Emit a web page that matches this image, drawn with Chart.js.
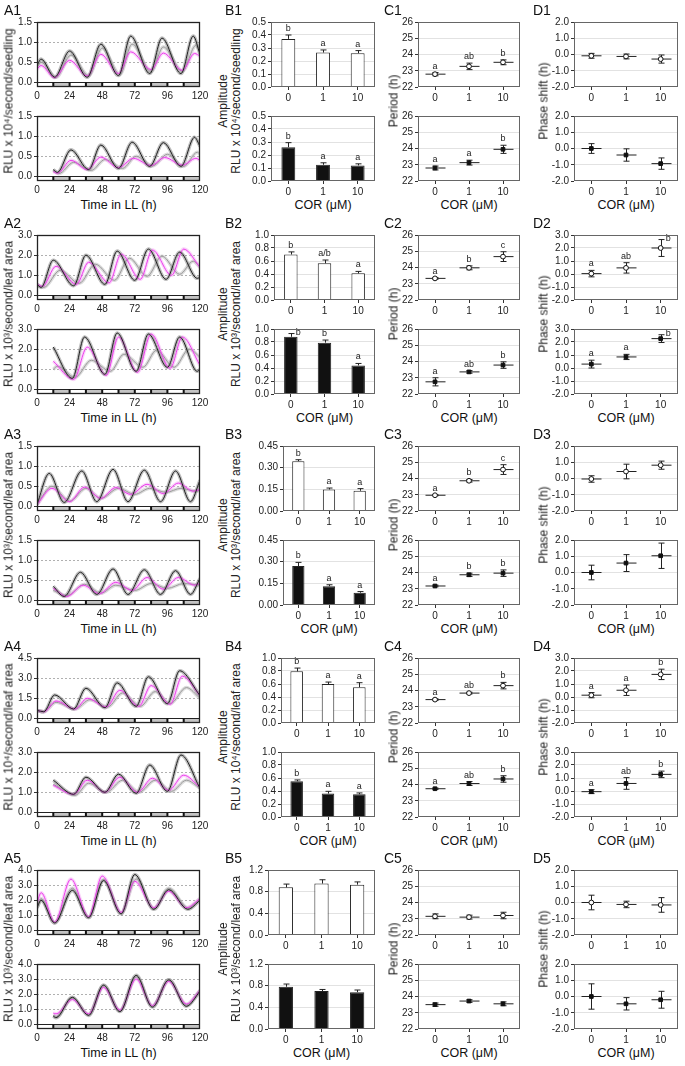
<!DOCTYPE html>
<html>
<head>
<meta charset="utf-8">
<script src="https://cdn.jsdelivr.net/npm/chart.js@4.4.0/dist/chart.umd.min.js"></script>
<style>
  body { margin: 0; background: #fff; font-family: "Liberation Sans", Arial, sans-serif; }
  #fig { position: relative; width: 685px; height: 1066px; overflow: hidden; }
  canvas { position: absolute; }
  .lbl { position: absolute; font-size: 14px; color: #111; line-height: 14px; }
  .ttl { position: absolute; font-size: 12.5px; color: #111; white-space: nowrap; transform: translate(-50%, -50%); }
  .rot { position: absolute; font-size: 12px; color: #222; white-space: nowrap; text-align: center;
         line-height: 13px; transform: translate(-50%, -50%) rotate(-90deg); }
</style>
</head>
<body>
<div id="fig"></div>
<script>
// ---- shared categories / ticks ----
const doses = ["0", "1", "10"];
const timeTicks = [0, 24, 48, 72, 96, 120];
const ldDark = [[12, 24], [36, 48], [60, 72], [84, 96], [108, 120]];

const rluTicks15 = [0, 0.5, 1.0, 1.5];
const rluTicks3 = [0, 1, 2, 3];
const rluTicks45 = [0, 1.5, 3.0, 4.5];
const rluTicks4 = [0, 1, 2, 3, 4];
const ampTicks05 = [0, 0.1, 0.2, 0.3, 0.4, 0.5];
const ampTicks1 = [0, 0.2, 0.4, 0.6, 0.8, 1.0];
const ampTicks045 = [0, 0.15, 0.30, 0.45];
const ampTicks12 = [0, 0.4, 0.8, 1.2];
const periodTicks = [22, 23, 24, 25, 26];
const phaseTicks2 = [-2, -1, 0, 1, 2];
const phaseTicks3 = [-2, -1, 0, 1, 2, 3];

// ---- A: luminescence traces [time h, RLU] ; black = 0, magenta = 1, grey = 10 uM ----
const a1TopBlack = [[0,0.42],[3,0.58],[13,0.13],[24,0.78],[37,0.13],[47,0.95],[60,0.17],[69,1.15],[83,0.22],[92,1.1],[106,0.22],[115,1.15],[120,0.7]];
const a1TopMagenta = [[0,0.33],[3,0.42],[13,0.12],[24,0.55],[37,0.16],[47,0.7],[60,0.22],[69,0.76],[84,0.32],[93,0.73],[107,0.3],[116,0.72],[120,0.65]];
const a1TopGrey = [[0,0.38],[3,0.5],[14,0.13],[25,0.68],[38,0.17],[48,0.85],[61,0.2],[70,0.95],[84,0.27],[93,0.88],[107,0.28],[117,0.92],[120,0.8]];
const a1BotBlack = [[12,0.17],[15,0.1],[25,0.66],[38,0.17],[47,0.78],[60,0.2],[70,0.85],[83,0.25],[93,0.84],[106,0.25],[116,0.97],[120,0.75]];
const a1BotMagenta = [[12,0.12],[15,0.08],[25,0.4],[37,0.17],[47,0.48],[60,0.22],[71,0.45],[84,0.27],[94,0.47],[107,0.28],[117,0.45],[120,0.4]];
const a1BotGrey = [[12,0.15],[16,0.07],[27,0.35],[40,0.15],[50,0.42],[63,0.2],[73,0.5],[85,0.26],[96,0.55],[108,0.25],[118,0.6],[120,0.55]];

const a2TopBlack = [[0,0.55],[3,0.4],[12,1.75],[27,0.48],[36,2.0],[50,0.55],[59,2.2],[72,0.75],[82,2.3],[95,0.8],[105,2.15],[118,0.85],[120,0.9]];
const a2TopMagenta = [[0,0.55],[4,0.45],[14,1.45],[29,0.55],[38,1.65],[53,0.62],[62,2.05],[76,0.8],[85,2.25],[99,1.0],[108,2.3],[120,1.4]];
const a2TopGrey = [[0,0.5],[5,0.4],[17,1.25],[31,0.6],[43,1.55],[57,0.75],[68,1.85],[81,0.95],[92,1.95],[105,1.05],[115,1.7],[120,1.4]];
const a2BotBlack = [[12,2.1],[26,0.55],[35,2.6],[50,0.75],[59,2.8],[73,0.9],[82,2.75],[96,1.1],[105,2.6],[118,0.9],[120,1.0]];
const a2BotMagenta = [[12,1.4],[27,0.5],[37,2.1],[51,0.7],[60,2.6],[74,0.85],[84,2.75],[98,1.05],[107,2.6],[120,1.2]];
const a2BotGrey = [[12,1.0],[15,1.15],[28,0.6],[40,1.45],[54,0.9],[64,1.75],[78,1.1],[88,1.95],[101,1.1],[112,2.0],[120,1.6]];

const a3TopBlack = [[0,0.05],[9,0.82],[20,0.1],[33,0.88],[44,0.12],[56,0.92],[67,0.12],[79,0.9],[91,0.12],[102,0.88],[113,0.12],[120,0.65]];
const a3TopMagenta = [[0,0.05],[11,0.45],[24,0.12],[35,0.48],[47,0.2],[58,0.47],[69,0.3],[81,0.55],[93,0.32],[104,0.58],[115,0.38],[120,0.42]];
const a3TopGrey = [[0,0.05],[11,0.5],[24,0.13],[36,0.45],[47,0.2],[60,0.45],[72,0.3],[83,0.45],[95,0.35],[106,0.45],[117,0.38],[120,0.4]];
const a3BotBlack = [[12,0.35],[20,0.1],[32,0.7],[44,0.15],[56,0.78],[67,0.15],[79,0.76],[91,0.15],[102,0.74],[113,0.15],[120,0.55]];
const a3BotMagenta = [[12,0.3],[22,0.1],[34,0.38],[46,0.17],[58,0.45],[70,0.25],[81,0.57],[93,0.28],[104,0.57],[116,0.38],[120,0.42]];
const a3BotGrey = [[12,0.25],[22,0.12],[35,0.4],[47,0.18],[58,0.38],[72,0.25],[84,0.42],[96,0.3],[108,0.42],[120,0.38]];

const a4TopBlack = [[0,0.6],[5,0.5],[13,1.75],[27,0.7],[36,2.25],[50,0.8],[59,2.65],[73,0.9],[82,3.1],[96,1.1],[105,3.55],[120,1.7]];
const a4TopMagenta = [[0,0.6],[5,0.5],[14,1.3],[28,0.7],[37,1.5],[51,0.85],[61,2.1],[75,0.9],[84,2.45],[98,1.05],[107,3.15],[120,1.7]];
const a4TopGrey = [[0,0.6],[5,0.5],[14,1.2],[28,0.7],[39,1.4],[52,0.85],[63,1.9],[76,0.9],[87,2.0],[98,1.1],[110,2.3],[120,1.5]];
const a4BotBlack = [[12,1.6],[27,0.9],[36,1.75],[50,1.0],[60,1.9],[73,0.95],[83,2.35],[96,1.05],[106,2.85],[120,1.2]];
const a4BotMagenta = [[12,1.35],[27,0.9],[37,1.6],[50,1.0],[61,1.75],[74,1.0],[85,1.7],[97,1.1],[108,1.85],[120,1.25]];
const a4BotGrey = [[12,1.4],[28,0.85],[38,1.45],[51,1.0],[63,1.6],[75,1.0],[87,1.6],[99,1.05],[110,1.6],[120,1.2]];

const a5TopBlack = [[0,1.5],[3,2.0],[13,0.5],[26,2.65],[38,0.85],[49,3.3],[62,1.1],[72,3.7],[86,1.4],[97,2.7],[111,1.4],[120,2.0]];
const a5TopMagenta = [[0,1.8],[3,2.5],[13,0.55],[25,3.4],[38,0.9],[48,3.6],[62,1.2],[72,3.25],[86,1.5],[97,2.6],[110,1.5],[120,2.1]];
const a5TopGrey = [[0,1.5],[3,2.1],[13,0.5],[26,2.8],[38,0.85],[49,3.35],[62,1.15],[73,3.4],[86,1.45],[97,2.8],[111,1.5],[120,2.1]];
const a5BotBlack = [[12,0.55],[14,0.45],[26,1.8],[38,0.6],[49,2.6],[61,0.85],[73,3.25],[85,1.15],[97,2.95],[110,1.2],[120,2.2]];
const a5BotMagenta = [[12,0.75],[14,0.7],[26,1.65],[38,0.7],[49,2.45],[61,0.95],[73,3.0],[85,1.25],[97,2.85],[110,1.35],[120,2.25]];
const a5BotGrey = [[12,0.6],[14,0.5],[26,1.75],[38,0.65],[49,2.6],[61,0.9],[73,3.15],[85,1.2],[97,2.95],[110,1.3],[120,2.25]];

// ---- B: amplitude (mean, SE, letters) ----
const b1TopMean = [0.37, 0.265, 0.26],  b1TopErr = [0.03, 0.02, 0.02],  b1TopSig = ["b", "a", "a"];
const b1BotMean = [0.26, 0.125, 0.12],  b1BotErr = [0.035, 0.015, 0.012], b1BotSig = ["b", "a", "a"];
const b2TopMean = [0.70, 0.565, 0.41],  b2TopErr = [0.04, 0.05, 0.03],  b2TopSig = ["b", "a/b", "a"];
const b2BotMean = [0.88, 0.79, 0.44],   b2BotErr = [0.05, 0.04, 0.03],  b2BotSig = ["b", "b", "a"];
const b3TopMean = [0.345, 0.149, 0.14], b3TopErr = [0.01, 0.01, 0.015], b3TopSig = ["b", "a", "a"];
const b3BotMean = [0.27, 0.13, 0.085],  b3BotErr = [0.025, 0.01, 0.008], b3BotSig = ["b", "a", "a"];
const b4TopMean = [0.795, 0.60, 0.55],  b4TopErr = [0.05, 0.03, 0.07],  b4TopSig = ["b", "a", "a"];
const b4BotMean = [0.55, 0.36, 0.35],   b4BotErr = [0.02, 0.035, 0.02], b4BotSig = ["b", "a", "a"];
const b5TopMean = [0.88, 0.95, 0.93],   b5TopErr = [0.06, 0.07, 0.05],  b5TopSig = ["", "", ""];
const b5BotMean = [0.78, 0.70, 0.68],   b5BotErr = [0.05, 0.03, 0.04],  b5BotSig = ["", "", ""];

// ---- C: period (h) ----
const c1TopMean = [22.79, 23.27, 23.52], c1TopErr = [0.1, 0.2, 0.15],   c1TopSig = ["a", "ab", "b"];
const c1BotMean = [22.8, 23.13, 23.95],  c1BotErr = [0.12, 0.15, 0.25], c1BotSig = ["a", "a", "b"];
const c2TopMean = [23.33, 23.98, 24.67], c2TopErr = [0.05, 0.12, 0.3],  c2TopSig = ["a", "b", "c"];
const c2BotMean = [22.75, 23.36, 23.78], c2BotErr = [0.25, 0.08, 0.2],  c2BotSig = ["a", "ab", "b"];
const c3TopMean = [22.97, 23.86, 24.55], c3TopErr = [0.03, 0.08, 0.3],  c3TopSig = ["a", "b", "c"];
const c3BotMean = [23.17, 23.86, 23.96], c3BotErr = [0.05, 0.1, 0.2],   c3BotSig = ["a", "b", "b"];
const c4TopMean = [23.44, 23.84, 24.3],  c4TopErr = [0.05, 0.05, 0.2],  c4TopSig = ["a", "ab", "b"];
const c4BotMean = [23.74, 24.06, 24.34], c4BotErr = [0.04, 0.12, 0.2],  c4BotSig = ["a", "ab", "b"];
const c5TopMean = [23.15, 23.1, 23.2],   c5TopErr = [0.15, 0.12, 0.2],  c5TopSig = ["", "", ""];
const c5BotMean = [23.5, 23.72, 23.55],  c5BotErr = [0.1, 0.08, 0.12],  c5BotSig = ["", "", ""];

// ---- D: phase shift (h) ----
const d1TopMean = [-0.08, -0.12, -0.28], d1TopErr = [0.15, 0.15, 0.25], d1TopSig = ["", "", ""];
const d1BotMean = [0.0, -0.4, -0.93],    d1BotErr = [0.3, 0.38, 0.35],  d1BotSig = ["", "", ""];
const d2TopMean = [0.03, 0.47, 2.0],     d2TopErr = [0.25, 0.4, 0.65],  d2TopSig = ["a", "ab", "b"];
const d2BotMean = [0.3, 0.85, 2.26],     d2BotErr = [0.3, 0.2, 0.3],    d2BotSig = ["a", "a", "b"];
const d3TopMean = [-0.03, 0.43, 0.82],   d3TopErr = [0.2, 0.45, 0.25],  d3TopSig = ["", "", ""];
const d3BotMean = [0.0, 0.58, 1.03],     d3BotErr = [0.45, 0.52, 0.78], d3BotSig = ["", "", ""];
const d4TopMean = [0.14, 0.52, 1.74],    d4TopErr = [0.2, 0.4, 0.4],    d4TopSig = ["a", "a", "b"];
const d4BotMean = [-0.05, 0.58, 1.28],   d4BotErr = [0.15, 0.45, 0.25], d4BotSig = ["a", "ab", "b"];
const d5TopMean = [0.0, -0.12, -0.15],   d5TopErr = [0.45, 0.2, 0.45],  d5TopSig = ["", "", ""];
const d5BotMean = [0.0, -0.45, -0.2],    d5BotErr = [0.78, 0.38, 0.52], d5BotSig = ["", "", ""];

// ---- rows of the figure ----
const rows = [
  { unit: "RLU x 10\u2074/second/seedling",
    aTop: [a1TopBlack, a1TopMagenta, a1TopGrey], aBot: [a1BotBlack, a1BotMagenta, a1BotGrey], aTicks: [rluTicks15, rluTicks15],
    bTop: [b1TopMean, b1TopErr, b1TopSig], bBot: [b1BotMean, b1BotErr, b1BotSig], bTicks: ampTicks05, bDig: 1,
    cTop: [c1TopMean, c1TopErr, c1TopSig], cBot: [c1BotMean, c1BotErr, c1BotSig],
    dTop: [d1TopMean, d1TopErr, d1TopSig], dBot: [d1BotMean, d1BotErr, d1BotSig], dTicks: phaseTicks2 },
  { unit: "RLU x 10\u00b3/second/leaf area",
    aTop: [a2TopBlack, a2TopMagenta, a2TopGrey], aBot: [a2BotBlack, a2BotMagenta, a2BotGrey], aTicks: [rluTicks3, rluTicks3],
    bTop: [b2TopMean, b2TopErr, b2TopSig], bBot: [b2BotMean, b2BotErr, b2BotSig], bTicks: ampTicks1, bDig: 1,
    cTop: [c2TopMean, c2TopErr, c2TopSig], cBot: [c2BotMean, c2BotErr, c2BotSig],
    dTop: [d2TopMean, d2TopErr, d2TopSig], dBot: [d2BotMean, d2BotErr, d2BotSig], dTicks: phaseTicks3 },
  { unit: "RLU x 10\u00b3/second/leaf area",
    aTop: [a3TopBlack, a3TopMagenta, a3TopGrey], aBot: [a3BotBlack, a3BotMagenta, a3BotGrey], aTicks: [rluTicks15, rluTicks15],
    bTop: [b3TopMean, b3TopErr, b3TopSig], bBot: [b3BotMean, b3BotErr, b3BotSig], bTicks: ampTicks045, bDig: 2,
    cTop: [c3TopMean, c3TopErr, c3TopSig], cBot: [c3BotMean, c3BotErr, c3BotSig],
    dTop: [d3TopMean, d3TopErr, d3TopSig], dBot: [d3BotMean, d3BotErr, d3BotSig], dTicks: phaseTicks2 },
  { unit: "RLU x 10\u2074/second/leaf area",
    aTop: [a4TopBlack, a4TopMagenta, a4TopGrey], aBot: [a4BotBlack, a4BotMagenta, a4BotGrey], aTicks: [rluTicks45, rluTicks3],
    bTop: [b4TopMean, b4TopErr, b4TopSig], bBot: [b4BotMean, b4BotErr, b4BotSig], bTicks: ampTicks1, bDig: 1,
    cTop: [c4TopMean, c4TopErr, c4TopSig], cBot: [c4BotMean, c4BotErr, c4BotSig],
    dTop: [d4TopMean, d4TopErr, d4TopSig], dBot: [d4BotMean, d4BotErr, d4BotSig], dTicks: phaseTicks3 },
  { unit: "RLU x 10\u00b3/second/leaf area",
    aTop: [a5TopBlack, a5TopMagenta, a5TopGrey], aBot: [a5BotBlack, a5BotMagenta, a5BotGrey], aTicks: [rluTicks4, rluTicks4],
    bTop: [b5TopMean, b5TopErr, b5TopSig], bBot: [b5BotMean, b5BotErr, b5BotSig], bTicks: ampTicks12, bDig: 1,
    cTop: [c5TopMean, c5TopErr, c5TopSig], cBot: [c5BotMean, c5BotErr, c5BotSig],
    dTop: [d5TopMean, d5TopErr, d5TopSig], dBot: [d5BotMean, d5BotErr, d5BotSig], dTicks: phaseTicks2 }
];

// ---- layout (pixels) ----
const rowTop = [20, 233, 444, 656, 868];
const BOT_OFF = 94, PLOT_H = 67, PAD_T = 6, XH = 16;
const colA = { l: 37, r: 200, yw: 24 };
const colB = { l: [271, 274, 283, 281, 268], r: 375, yw: 28 };
const colC = { l: 418, r: 520, yw: 20 };
const colD = { l: 574, r: 678, yw: 26 };
const lineCols = ["#1e1e1e", "#ec3cec", "#9a9a9a"];
const bandCols = ["rgba(110,110,110,0.45)", "rgba(245,160,245,0.45)", "rgba(190,190,190,0.55)"];

Chart.defaults.font.family = "'Liberation Sans', Arial, sans-serif";
Chart.defaults.font.size = 10;
Chart.defaults.color = "#222";

const fig = document.getElementById("fig");

const framePlugin = {
  id: "frame",
  afterDraw(chart) {
    const a = chart.chartArea, g = chart.ctx;
    const col = chart.options.plugins.frame.color || "#555";
    g.save();
    g.strokeStyle = col;
    g.lineWidth = chart.options.plugins.frame.width || 1;
    g.strokeRect(Math.round(a.left) + 0.5, Math.round(a.top) + 0.5,
                 Math.round(a.right - a.left) - 1, Math.round(a.bottom - a.top) - 1);
    g.restore();
  }
};

// light/dark strip under the time axis
const ldPlugin = {
  id: "ld",
  afterDatasetsDraw(chart) {
    const o = chart.options.plugins.ld;
    if (!o || !o.show) return;
    const xs = chart.scales.x, ys = chart.scales.y, g = chart.ctx, a = chart.chartArea;
    const y0 = Math.round(ys.getPixelForValue(0)) + 0.5, y1 = Math.round(a.bottom) - 1;
    g.save();
    g.fillStyle = "#fff";
    g.fillRect(a.left, y0, a.right - a.left, y1 - y0);
    g.fillStyle = "#c4c4c4";
    ldDark.forEach(([s, e]) => {
      const x0 = xs.getPixelForValue(s), x1 = xs.getPixelForValue(e);
      g.fillRect(x0, y0, x1 - x0, y1 - y0);
    });
    g.strokeStyle = "#222";
    g.lineWidth = 1;
    g.beginPath();
    g.moveTo(a.left, y0); g.lineTo(a.right, y0);
    g.stroke();
    g.fillStyle = "#111";
    ldDark.forEach(([s, e]) => {
      [s, e].forEach(t => {
        if (t <= 0 || t >= 120) return;
        const x = xs.getPixelForValue(t);
        g.fillRect(x - 1, y0, 2, y1 - y0);
      });
    });
    g.restore();
  }
};

// error bars, mean dashes and significance letters
function drawErr(chart, o) {
  const g = chart.ctx, ys = chart.scales.y, ds = chart.data.datasets[0];
  g.save();
  g.strokeStyle = "#222";
  g.lineWidth = 1;
  chart.getDatasetMeta(0).data.forEach((el, i) => {
    const m = ds.data[i], e = o.err[i], x = Math.round(el.x) + 0.5;
    const yt = ys.getPixelForValue(m + e), yb = ys.getPixelForValue(o.twoSided ? m - e : m);
    g.beginPath();
    g.moveTo(x, yt); g.lineTo(x, yb);
    g.moveTo(x - 3, yt); g.lineTo(x + 3, yt);
    if (o.twoSided) { g.moveTo(x - 3, yb); g.lineTo(x + 3, yb); }
    if (o.dash) {
      const py = ys.getPixelForValue(m);
      g.moveTo(x - 10, py); g.lineTo(x + 10, py);
    }
    g.stroke();
  });
  g.restore();
}
function drawSig(chart, o) {
  const g = chart.ctx, ys = chart.scales.y, ds = chart.data.datasets[0], a = chart.chartArea;
  g.save();
  g.fillStyle = "#222";
  g.font = "9px 'Liberation Sans', Arial, sans-serif";
  chart.getDatasetMeta(0).data.forEach((el, i) => {
    const s = o.sig[i];
    if (!s) return;
    const yt = ys.getPixelForValue(ds.data[i] + o.err[i]);
    if (yt - a.top < 9) {
      g.textAlign = "left"; g.textBaseline = "middle";
      g.fillText(s, el.x + 5, yt - 1);
    } else {
      g.textAlign = "center"; g.textBaseline = "bottom";
      g.fillText(s, el.x, yt - 2);
    }
  });
  g.restore();
}
const marksPlugin = {
  id: "marks",
  beforeDatasetsDraw(chart) {
    const o = chart.options.plugins.marks;
    if (o && o.under) drawErr(chart, o);
  },
  afterDatasetsDraw(chart) {
    const o = chart.options.plugins.marks;
    if (!o) return;
    if (!o.under) drawErr(chart, o);
    drawSig(chart, o);
  }
};

function addCanvas(x, y, w, h) {
  const c = document.createElement("canvas");
  c.width = w; c.height = h;
  c.style.left = x + "px"; c.style.top = y + "px";
  c.style.width = w + "px"; c.style.height = h + "px";
  fig.appendChild(c);
  return c;
}

function addText(cls, txt, x, y) {
  const d = document.createElement("div");
  d.className = cls;
  d.innerHTML = txt;
  d.style.left = x + "px";
  d.style.top = y + "px";
  fig.appendChild(d);
}

function yAxis(ticks, min, max, yw, digits, gridCol, dash) {
  const lo = ticks[0], hi = ticks[ticks.length - 1];
  return {
    type: "linear", min: min, max: max,
    afterFit: s => { s.width = yw; },
    afterBuildTicks: s => { s.ticks = ticks.map(v => ({ value: v })); },
    ticks: { callback: v => Number(v).toFixed(digits), autoSkip: false, padding: 2, color: "#222", font: { size: 10 } },
    grid: {
      color: c => (c.tick && c.tick.value > lo + 1e-9 && c.tick.value < hi - 1e-9) ? gridCol : "rgba(0,0,0,0)",
      tickColor: "#333", tickLength: 3, lineWidth: 1
    },
    border: { display: false, dash: dash }
  };
}

function timeAxis() {
  return {
    type: "linear", min: 0, max: 120,
    afterFit: s => { s.height = XH; },
    afterBuildTicks: s => { s.ticks = timeTicks.map(v => ({ value: v })); },
    ticks: { autoSkip: false, padding: 3, maxRotation: 0, color: "#222", font: { size: 10 } },
    grid: { display: false, drawTicks: false, tickLength: 0 },
    border: { display: false }
  };
}

function doseAxis() {
  return {
    type: "category", labels: doses, offset: true,
    afterFit: s => { s.height = XH; },
    ticks: { autoSkip: false, padding: 2, maxRotation: 0, color: "#222", font: { size: 10 } },
    grid: { offset: false, color: "rgba(0,0,0,0)", tickColor: "#333", tickLength: 3 },
    border: { display: false }
  };
}

function baseOpts(x, y, plug, padR) {
  return {
    responsive: false, maintainAspectRatio: false, animation: false, devicePixelRatio: 1, events: [],
    layout: { autoPadding: false, padding: { top: PAD_T, right: padR, bottom: 0, left: 0 } },
    plugins: Object.assign({ legend: { display: false }, tooltip: { enabled: false } }, plug),
    scales: { x: x, y: y }
  };
}

function traceDs(pts, col, w, order) {
  return {
    data: pts.map(p => ({ x: p[0], y: p[1] })),
    borderColor: col, borderWidth: w, pointRadius: 0, fill: false,
    cubicInterpolationMode: "monotone", order: order
  };
}

function timeChart(top, series, ticks) {
  const w = colA.yw + (colA.r - colA.l) + 12, h = PAD_T + PLOT_H + XH;
  const cv = addCanvas(colA.l - colA.yw, top - PAD_T, w, h);
  const hi = ticks[ticks.length - 1];
  const ds = [];
  series.forEach((s, i) => ds.push(traceDs(s, lineCols[i], 1, i)));
  series.forEach((s, i) => ds.push(traceDs(s, bandCols[i], 3.5, 3 + i)));
  new Chart(cv, {
    type: "line",
    data: { datasets: ds },
    options: baseOpts(timeAxis(), yAxis(ticks, -hi * 0.075, hi, colA.yw, 1, "#b0b0b0", [2, 2]),
      { ld: { show: true }, frame: { color: "#222", width: 1.3 } }, 12),
    plugins: [framePlugin, ldPlugin]
  });
}

function ampChart(left, top, panel, ticks, digits, fillCol) {
  const [mean, err, sig] = panel;
  const w = colB.yw + (colB.r - left) + 6, h = PAD_T + PLOT_H + XH;
  const cv = addCanvas(left - colB.yw, top - PAD_T, w, h);
  new Chart(cv, {
    type: "bar",
    data: { labels: doses, datasets: [{ data: mean, backgroundColor: fillCol, borderColor: "#222",
      borderWidth: 1, barPercentage: 0.4, categoryPercentage: 1 }] },
    options: baseOpts(doseAxis(), yAxis(ticks, ticks[0], ticks[ticks.length - 1], colB.yw, digits, "#e2e2e2", []),
      { marks: { err: err, sig: sig, twoSided: false, dash: false, under: false }, frame: { color: "#666" } }, 6),
    plugins: [framePlugin, marksPlugin]
  });
}

function pointChart(col, top, panel, ticks, digits, filled) {
  const [mean, err, sig] = panel;
  const w = col.yw + (col.r - col.l) + 6, h = PAD_T + PLOT_H + XH;
  const cv = addCanvas(col.l - col.yw, top - PAD_T, w, h);
  new Chart(cv, {
    type: "line",
    data: { labels: doses, datasets: [{ data: mean, showLine: false,
      pointStyle: filled ? "rect" : "circle", pointRadius: filled ? 2.6 : 2.4,
      pointBackgroundColor: filled ? "#111" : "#fff", pointBorderColor: "#111", pointBorderWidth: 1 }] },
    options: baseOpts(doseAxis(), yAxis(ticks, ticks[0], ticks[ticks.length - 1], col.yw, digits, "#e2e2e2", []),
      { marks: { err: err, sig: sig, twoSided: true, dash: true, under: true }, frame: { color: "#666" } }, 6),
    plugins: [framePlugin, marksPlugin]
  });
}

rows.forEach((r, i) => {
  const t1 = rowTop[i], t2 = t1 + BOT_OFF, bottom = t2 + PLOT_H, mid = (t1 + bottom) / 2;
  const n = i + 1;

  timeChart(t1, r.aTop, r.aTicks[0]);
  timeChart(t2, r.aBot, r.aTicks[1]);

  ampChart(colB.l[i], t1, r.bTop, r.bTicks, r.bDig, "#fff");
  ampChart(colB.l[i], t2, r.bBot, r.bTicks, r.bDig, "#111");

  pointChart(colC, t1, r.cTop, periodTicks, 0, false);
  pointChart(colC, t2, r.cBot, periodTicks, 0, true);

  pointChart(colD, t1, r.dTop, r.dTicks, 1, false);
  pointChart(colD, t2, r.dBot, r.dTicks, 1, true);

  // panel letters
  addText("lbl", "A" + n, 4, t1 - 17);
  addText("lbl", "B" + n, 225, t1 - 17);
  addText("lbl", "C" + n, 384, t1 - 17);
  addText("lbl", "D" + n, 533, t1 - 17);

  // axis titles
  addText("rot", r.unit, 9, mid);
  addText("rot", "Amplitude<br>" + r.unit, 230, mid);
  addText("rot", "Period (h)", 394, mid);
  addText("rot", "Phase shift (h)", 544, mid);

  const ty = bottom + 24;
  addText("ttl", "Time in LL (h)", (colA.l + colA.r) / 2, ty);
  addText("ttl", "COR (\u03bcM)", (colB.l[i] + colB.r) / 2, ty);
  addText("ttl", "COR (\u03bcM)", (colC.l + colC.r) / 2, ty);
  addText("ttl", "COR (\u03bcM)", (colD.l + colD.r) / 2, ty);
});
</script>
</body>
</html>
